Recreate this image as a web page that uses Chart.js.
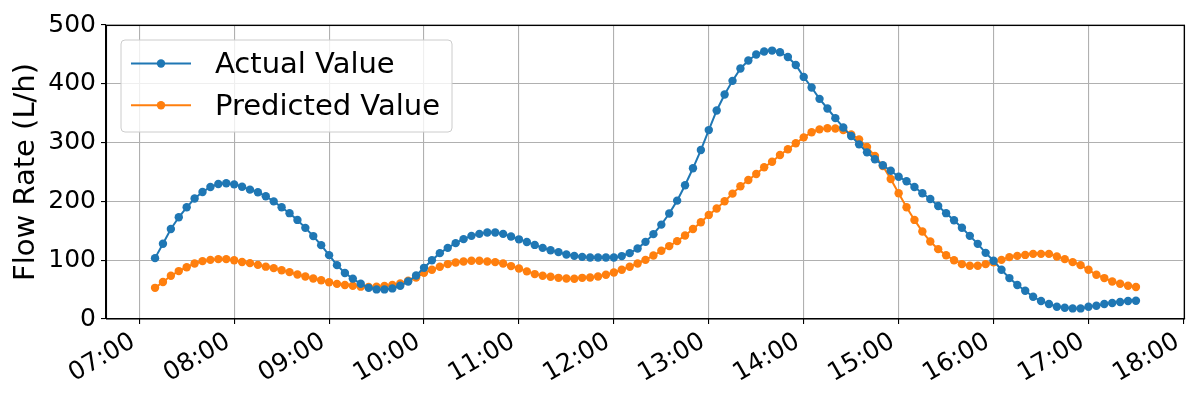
<!DOCTYPE html>
<html><head><meta charset="utf-8">
<script src="https://cdn.jsdelivr.net/npm/chart.js@4"></script>
<style>html,body{margin:0;padding:0;background:#fff}#wrap{width:1200px;height:400px}</style>
</head><body><div id="wrap"><canvas id="c" width="1200" height="400"></canvas></div>
<script>
const times = [
'07:10','07:15','07:20','07:25','07:30','07:35','07:40','07:45','07:50','07:55',
'08:00','08:05','08:10','08:15','08:20','08:25','08:30','08:35','08:40','08:45','08:50','08:55',
'09:00','09:05','09:10','09:15','09:20','09:25','09:30','09:35','09:40','09:45','09:50','09:55',
'10:00','10:05','10:10','10:15','10:20','10:25','10:30','10:35','10:40','10:45','10:50','10:55',
'11:00','11:05','11:10','11:15','11:20','11:25','11:30','11:35','11:40','11:45','11:50','11:55',
'12:00','12:05','12:10','12:15','12:20','12:25','12:30','12:35','12:40','12:45','12:50','12:55',
'13:00','13:05','13:10','13:15','13:20','13:25','13:30','13:35','13:40','13:45','13:50','13:55',
'14:00','14:05','14:10','14:15','14:20','14:25','14:30','14:35','14:40','14:45','14:50','14:55',
'15:00','15:05','15:10','15:15','15:20','15:25','15:30','15:35','15:40','15:45','15:50','15:55',
'16:00','16:05','16:10','16:15','16:20','16:25','16:30','16:35','16:40','16:45','16:50','16:55',
'17:00','17:05','17:10','17:15','17:20','17:25','17:30'];

const actualValues = [
103.5,128,153,173,190,205,216,224.5,229.6,230.8,
229,225,220,215.5,208.7,200,190,180,168.5,155,141,125.6,
108.6,91.6,78.3,68.7,60,53,50.3,50.3,52,56.5,63.8,74,
87,100,112,121,129,135.8,141.4,144.8,147,147,144.8,140.2,
135.5,131,126,121,117,113.7,109.7,107.4,105.7,104.6,104.6,104.6,
104.6,107,112,119.8,131.2,144.3,160.5,179.5,201.3,227.4,256.3,287.3,
321.3,354.7,381.9,405,426,439.6,449.8,454.9,456.5,453.7,445.7,432,
411.7,393.7,374.4,358,341.6,325.8,311.1,297,283.4,271.6,261.4,252.2,
242,234.2,224.5,213.8,204.2,192.3,180,168,155.3,141.4,127.8,112.5,
99,83.7,69.6,57.7,48,37.8,30.5,25.5,20.9,19.2,18,18,
20.9,22.6,25.5,27.2,28.9,30.5,31];

const predictedValues = [
53,62.8,73.5,81.5,88,94.4,98.4,100.6,101.8,101.8,
100,97,95,92,89,86.5,83,79.7,75.7,72.3,69,66,
62.5,59.7,57.8,56.5,55,54.3,54.8,56,57.7,60.4,65,70.6,
78.6,83.7,88.8,93.3,96,97.8,99,99,97.8,96.7,94.5,90,
86,81,76.4,73.5,71.8,70,69,68.4,70,70.6,72.3,75.2,
79,83.7,88.8,94.4,100.6,108,116,124,132.4,142,153,164.6,
177,188,200.2,213.2,225.7,236.4,246.6,258,267.5,278.8,288.8,299,
308.9,317.6,322.5,324.5,324,321.3,314,305.5,292.4,277.2,260.2,238.1,
213.8,190,168.5,148.7,131.7,118.8,108.5,100,93.3,90.5,90.5,93.3,
96.5,100.6,105.2,107.4,109,110.8,110.8,110.8,106.3,101.8,96.7,91.6,
83.7,75.2,69.6,63.8,60,56.5,54.3];

const xTickLabels = ['07:00','08:00','09:00','10:00','11:00','12:00','13:00','14:00','15:00','16:00','17:00','18:00'];
const yTickValues = [0,100,200,300,400,500];
const seriesNames = ['Actual Value','Predicted Value'];
const seriesColors = ['#1f77b4','#ff7f0e'];
const yTitle = 'Flow Rate (L/h)';

const FONT = "'DejaVu Sans', sans-serif";
const toMin = s => { const p = s.split(':').map(Number); return p[0]*60 + p[1]; };
const toLabel = v => { const h = Math.floor(v/60), m = Math.round(v - h*60); return String(h).padStart(2,'0') + ':' + String(m).padStart(2,'0'); };
const xs = times.map(toMin);
const span = xs[xs.length-1] - xs[0];
const xMin = xs[0] - 0.05*span, xMax = xs[xs.length-1] + 0.05*span;

const mkData = vals => vals.map((v,i) => ({x: xs[i], y: v}));

const framePlugin = {
  id: 'frame',
  afterDatasetsDraw(chart) {
    const {ctx, chartArea: a} = chart;
    ctx.save();
    ctx.strokeStyle = '#000';
    ctx.lineWidth = 1.1;
    ctx.strokeRect(Math.round(a.left)+0.5, Math.round(a.top)+0.5, Math.round(a.right-a.left)-1, Math.round(a.bottom-a.top)-0.5);
    ctx.restore();
  },
  afterDraw(chart) {
    const ctx = chart.ctx;
    const xScale = chart.scales.x;
    const a = chart.chartArea;
    // rotated x tick labels, right/top anchored like the reference
    ctx.save();
    ctx.fillStyle = '#000';
    ctx.font = '25px ' + FONT;
    ctx.textAlign = 'right';
    ctx.textBaseline = 'alphabetic';
    xScale.ticks.forEach(t => {
      const px = xScale.getPixelForValue(t.value);
      ctx.save();
      ctx.translate(px - 2.6, a.bottom + 26.5);
      ctx.rotate(-Math.PI / 6);
      ctx.fillText(toLabel(t.value), 0, 0);
      ctx.restore();
    });
    ctx.restore();

    // legend
    const bx = 121, by = 40, bw = 331, bh = 92, r = 4;
    ctx.save();
    ctx.beginPath();
    ctx.moveTo(bx+r, by);
    ctx.arcTo(bx+bw, by, bx+bw, by+bh, r);
    ctx.arcTo(bx+bw, by+bh, bx, by+bh, r);
    ctx.arcTo(bx, by+bh, bx, by, r);
    ctx.arcTo(bx, by, bx+bw, by, r);
    ctx.closePath();
    ctx.fillStyle = 'rgba(255,255,255,0.8)';
    ctx.fill();
    ctx.strokeStyle = '#cccccc';
    ctx.lineWidth = 1;
    ctx.stroke();
    chart.data.datasets.forEach((ds, i) => {
      const y = 63.5 + i*41.7;
      ctx.strokeStyle = ds.borderColor;
      ctx.lineWidth = 2;
      ctx.beginPath(); ctx.moveTo(131, y); ctx.lineTo(191, y); ctx.stroke();
      ctx.fillStyle = ds.borderColor;
      ctx.beginPath(); ctx.arc(161, y, 4.2, 0, Math.PI*2); ctx.fill();
      ctx.fillStyle = '#000';
      ctx.font = '29px ' + FONT;
      ctx.textBaseline = 'alphabetic';
      ctx.textAlign = 'left';
      ctx.fillText(ds.label, 215, y + 9.8);
    });
    ctx.restore();
  }
};

new Chart(document.getElementById('c'), {
  type: 'line',
  data: {
    datasets: [0,1].map(i => ({
      label: seriesNames[i],
      data: mkData(i === 0 ? actualValues : predictedValues),
      borderColor: seriesColors[i],
      backgroundColor: seriesColors[i],
      borderWidth: 2,
      pointRadius: 4.2,
      pointBorderWidth: 0,
      pointBackgroundColor: seriesColors[i],
      tension: 0,
      fill: false
    }))
  },
  options: {
    responsive: false,
    animation: false,
    events: [],
    layout: { padding: { top: 25, right: 15, bottom: 0, left: 0 } },
    plugins: { legend: { display: false }, tooltip: { enabled: false } },
    scales: {
      x: {
        type: 'linear',
        min: xMin, max: xMax,
        afterFit(s) { s.height = 81; },
        afterBuildTicks(s) { s.ticks = xTickLabels.map(t => ({ value: toMin(t) })); },
        grid: { color: '#b0b0b0', lineWidth: 1.1, tickLength: 5, tickColor: '#000', tickWidth: 1.1 },
        border: { color: '#000', width: 1.1 },
        ticks: { display: false, autoSkip: false, maxRotation: 0 }
      },
      y: {
        min: 0, max: 500,
        afterFit(s) { s.width = 106; },
        afterBuildTicks(s) { s.ticks = yTickValues.map(v => ({ value: v })); },
        grid: { color: '#b0b0b0', lineWidth: 1.1, tickLength: 5, tickColor: '#000', tickWidth: 1.1 },
        border: { color: '#000', width: 1.1 },
        ticks: { color: '#000', padding: 5, font: { family: FONT, size: 25 } },
        title: { display: true, text: yTitle, color: '#000', font: { family: FONT, size: 29 }, padding: { top: 9, bottom: 0 } }
      }
    }
  },
  plugins: [framePlugin]
});
</script></body></html>
